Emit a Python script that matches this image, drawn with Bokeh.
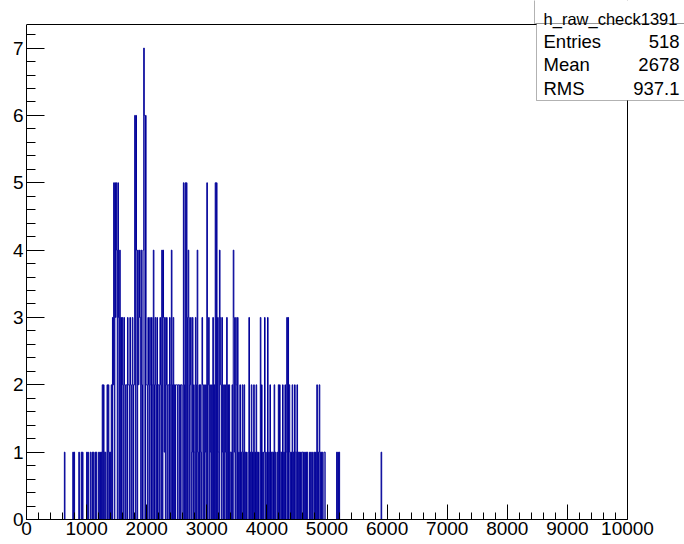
import numpy as np
from bokeh.plotting import figure
from bokeh.models import Range1d, FixedTicker, BoxAnnotation, Label, Span
from bokeh.embed import file_html
from bokeh.resources import INLINE

# ---- histogram contents: 10-unit bins, grouped per 100-unit block (block start -> 10 bins)
h0600 = [0, 0, 0, 1, 0, 0, 0, 0, 0, 0]
h0700 = [0, 0, 0, 0, 0, 0, 0, 1, 0, 1]
h0800 = [0, 0, 0, 0, 0, 0, 0, 1, 0, 0]
h0900 = [0, 1, 0, 1, 0, 0, 0, 0, 0, 0]
h1000 = [1, 0, 1, 0, 0, 0, 1, 0, 0, 1]
h1100 = [0, 1, 0, 0, 1, 0, 1, 0, 0, 0]
h1200 = [1, 0, 1, 0, 1, 0, 2, 0, 2, 1]
h1300 = [0, 1, 0, 0, 2, 0, 2, 1, 0, 1]
h1400 = [0, 2, 0, 3, 2, 5, 0, 5, 3, 5]
h1500 = [4, 0, 5, 3, 0, 4, 0, 3, 0, 3]
h1600 = [2, 0, 3, 2, 0, 2, 2, 0, 3, 2]
h1700 = [2, 0, 3, 2, 0, 2, 3, 0, 2, 2]
h1800 = [6, 0, 6, 4, 0, 4, 2, 3, 4, 3]
h1900 = [0, 4, 2, 0, 4, 7, 6, 0, 6, 2]
h2000 = [2, 0, 3, 2, 0, 3, 2, 0, 3, 2]
h2100 = [0, 4, 2, 0, 3, 2, 0, 3, 0, 2]
h2200 = [2, 0, 3, 2, 0, 4, 0, 4, 3, 1]
h2300 = [3, 0, 2, 3, 0, 2, 2, 0, 3, 2]
h2400 = [0, 4, 2, 0, 3, 0, 2, 0, 2, 2]
h2500 = [2, 0, 2, 2, 0, 2, 0, 2, 2, 0]
h2600 = [0, 5, 2, 0, 5, 0, 5, 3, 0, 4]
h2700 = [3, 0, 2, 3, 0, 1, 3, 0, 2, 1]
h2800 = [0, 3, 2, 0, 4, 1, 0, 2, 0, 2]
h2900 = [1, 0, 3, 2, 0, 2, 0, 1, 2, 0]
h3000 = [5, 0, 2, 3, 0, 2, 1, 0, 2, 0]
h3100 = [3, 0, 2, 0, 5, 0, 5, 0, 3, 1]
h3200 = [0, 4, 3, 2, 0, 3, 1, 0, 2, 0]
h3300 = [2, 1, 0, 3, 0, 2, 0, 2, 0, 1]
h3400 = [1, 0, 2, 0, 4, 3, 1, 0, 3, 2]
h3500 = [0, 3, 0, 1, 0, 2, 0, 1, 0, 2]
h3600 = [1, 0, 2, 0, 1, 0, 1, 0, 0, 1]
h3700 = [3, 0, 1, 0, 2, 0, 1, 0, 2, 0]
h3800 = [1, 0, 2, 0, 1, 0, 1, 0, 0, 3]
h3900 = [0, 2, 0, 1, 0, 1, 3, 0, 1, 0]
h4000 = [0, 3, 0, 1, 0, 2, 0, 1, 0, 1]
h4100 = [1, 0, 2, 0, 1, 0, 0, 1, 0, 2]
h4200 = [0, 2, 1, 0, 1, 0, 2, 0, 1, 0]
h4300 = [2, 0, 1, 3, 0, 3, 0, 2, 1, 0]
h4400 = [1, 0, 2, 0, 1, 0, 2, 1, 0, 1]
h4500 = [2, 0, 1, 0, 1, 0, 1, 0, 1, 1]
h4600 = [0, 1, 0, 1, 0, 1, 0, 1, 0, 0]
h4700 = [0, 1, 0, 1, 0, 0, 1, 0, 0, 1]
h4800 = [0, 1, 0, 2, 0, 1, 0, 2, 1, 0]
h4900 = [1, 0, 1, 0, 0, 1, 1, 0, 0, 0]
h5100 = [0, 0, 0, 0, 0, 0, 1, 0, 1, 0]
h5200 = [1, 0, 0, 0, 0, 0, 0, 0, 0, 0]
h5900 = [1, 0, 0, 0, 0, 0, 0, 0, 0, 0]

x_ticks = [0, 1000, 2000, 3000, 4000, 5000, 6000, 7000, 8000, 9000, 10000]
x_tick_labels = ["0", "1000", "2000", "3000", "4000", "5000", "6000", "7000", "8000", "9000", "10000"]
y_ticks = [0, 1, 2, 3, 4, 5, 6, 7]
y_tick_labels = ["0", "1", "2", "3", "4", "5", "6", "7"]

hist_name = "h_raw_check1391"
stat_names = ["Entries", "Mean", "RMS"]
stat_values = ["518", "2678", "937.1"]

X_MIN, X_MAX = 0, 10000
Y_MIN, Y_MAX = 0, 7.35

# ---- build the full 1000-bin histogram from the blocks
blocks = {600: h0600, 700: h0700, 800: h0800, 900: h0900, 1000: h1000, 1100: h1100,
          1200: h1200, 1300: h1300, 1400: h1400, 1500: h1500, 1600: h1600, 1700: h1700,
          1800: h1800, 1900: h1900, 2000: h2000, 2100: h2100, 2200: h2200, 2300: h2300,
          2400: h2400, 2500: h2500, 2600: h2600, 2700: h2700, 2800: h2800, 2900: h2900,
          3000: h3000, 3100: h3100, 3200: h3200, 3300: h3300, 3400: h3400, 3500: h3500,
          3600: h3600, 3700: h3700, 3800: h3800, 3900: h3900, 4000: h4000, 4100: h4100,
          4200: h4200, 4300: h4300, 4400: h4400, 4500: h4500, 4600: h4600, 4700: h4700,
          4800: h4800, 4900: h4900, 5100: h5100, 5200: h5200, 5900: h5900}
BW = 10
NB = (X_MAX - X_MIN) // BW
counts = np.zeros(NB)
for start, vals in blocks.items():
    i0 = (start - X_MIN) // BW
    counts[i0:i0 + len(vals)] = vals
edges = X_MIN + np.arange(NB + 1) * BW
ys = np.append(counts, counts[-1])

FONT = "Liberation Sans"
W, H = 684, 544
LEFT, BOTTOM = 26, 25          # canvas margins around the frame
HIST_W, HIST_H = 601, 495      # pixel size of the drawn histogram area
FW, FH = W - LEFT, H - BOTTOM  # the bokeh frame reaches the top / right canvas edges

x_end = X_MIN + (X_MAX - X_MIN) * FW / HIST_W
y_end = Y_MIN + (Y_MAX - Y_MIN) * FH / HIST_H

p = figure(frame_width=FW, frame_height=FH,
           min_border_left=LEFT, min_border_right=0, min_border_top=0, min_border_bottom=BOTTOM,
           x_range=Range1d(X_MIN, x_end), y_range=Range1d(Y_MIN, y_end),
           output_backend="svg", toolbar_location=None, title=None)

p.step(edges, ys, mode="after", line_color="#000099", line_width=1)

p.grid.visible = False
p.background_fill_color = "white"
p.border_fill_color = "white"
p.outline_line_color = None

# ROOT-style frame: top and right borders
p.add_layout(Span(location=X_MAX, dimension="height", line_color="black", line_width=1, level="underlay"))
p.add_layout(Span(location=Y_MAX, dimension="width", line_color="black", line_width=1, level="underlay"))

x_minor = [v for v in range(0, 10001, 200)]
y_minor = [round(0.2 * k, 1) for k in range(0, 37)]
p.xaxis.ticker = FixedTicker(ticks=x_ticks, minor_ticks=x_minor)
p.yaxis.ticker = FixedTicker(ticks=y_ticks, minor_ticks=y_minor)
p.xaxis.major_label_overrides = {t: l for t, l in zip(x_ticks, x_tick_labels)}
p.yaxis.major_label_overrides = {t: l for t, l in zip(y_ticks, y_tick_labels)}
p.xaxis.bounds = (X_MIN, X_MAX)
p.yaxis.bounds = (Y_MIN, Y_MAX)

for ax in (p.xaxis[0], p.yaxis[0]):
    ax.axis_line_color = "black"
    ax.major_tick_line_color = "black"
    ax.minor_tick_line_color = "black"
    ax.major_tick_out = 0
    ax.minor_tick_out = 0
    ax.major_label_text_font = FONT
    ax.major_label_text_font_size = "19px"
    ax.major_label_text_color = "black"

p.xaxis.major_tick_in = 15
p.xaxis.minor_tick_in = 7
p.yaxis.major_tick_in = 18
p.yaxis.minor_tick_in = 9
p.xaxis.major_label_standoff = 2
p.yaxis.major_label_standoff = 3

# ---- statistics box (screen units relative to the frame: x from left, y up from bottom)
def up(y_from_top):
    return FH - y_from_top

p.add_layout(BoxAnnotation(left=508, right=FW + 20, bottom=up(23), top=FH + 20,
                           left_units="screen", right_units="screen",
                           bottom_units="screen", top_units="screen",
                           fill_color="white", fill_alpha=1.0,
                           line_color="black", line_width=1, level="overlay"))
p.add_layout(BoxAnnotation(left=510, right=FW + 20, bottom=up(100), top=up(23),
                           left_units="screen", right_units="screen",
                           bottom_units="screen", top_units="screen",
                           fill_color="white", fill_alpha=1.0,
                           line_color="black", line_width=1, level="overlay"))
p.add_layout(Label(x=584, y=up(18), x_units="screen", y_units="screen", text=hist_name,
                   text_font=FONT, text_font_size="16.5px", text_align="center",
                   text_baseline="alphabetic", text_color="black", level="overlay"))
row_y = [up(41), up(64), up(87.5)]
for name, val, yy in zip(stat_names, stat_values, row_y):
    p.add_layout(Label(x=517, y=yy, x_units="screen", y_units="screen", text=name,
                       text_font=FONT, text_font_size="18.5px", text_align="left",
                       text_baseline="middle", text_color="black", level="overlay"))
    p.add_layout(Label(x=653, y=yy, x_units="screen", y_units="screen", text=val,
                       text_font=FONT, text_font_size="18.5px", text_align="right",
                       text_baseline="middle", text_color="black", level="overlay"))

open("out.html", "w").write(file_html(p, INLINE))
